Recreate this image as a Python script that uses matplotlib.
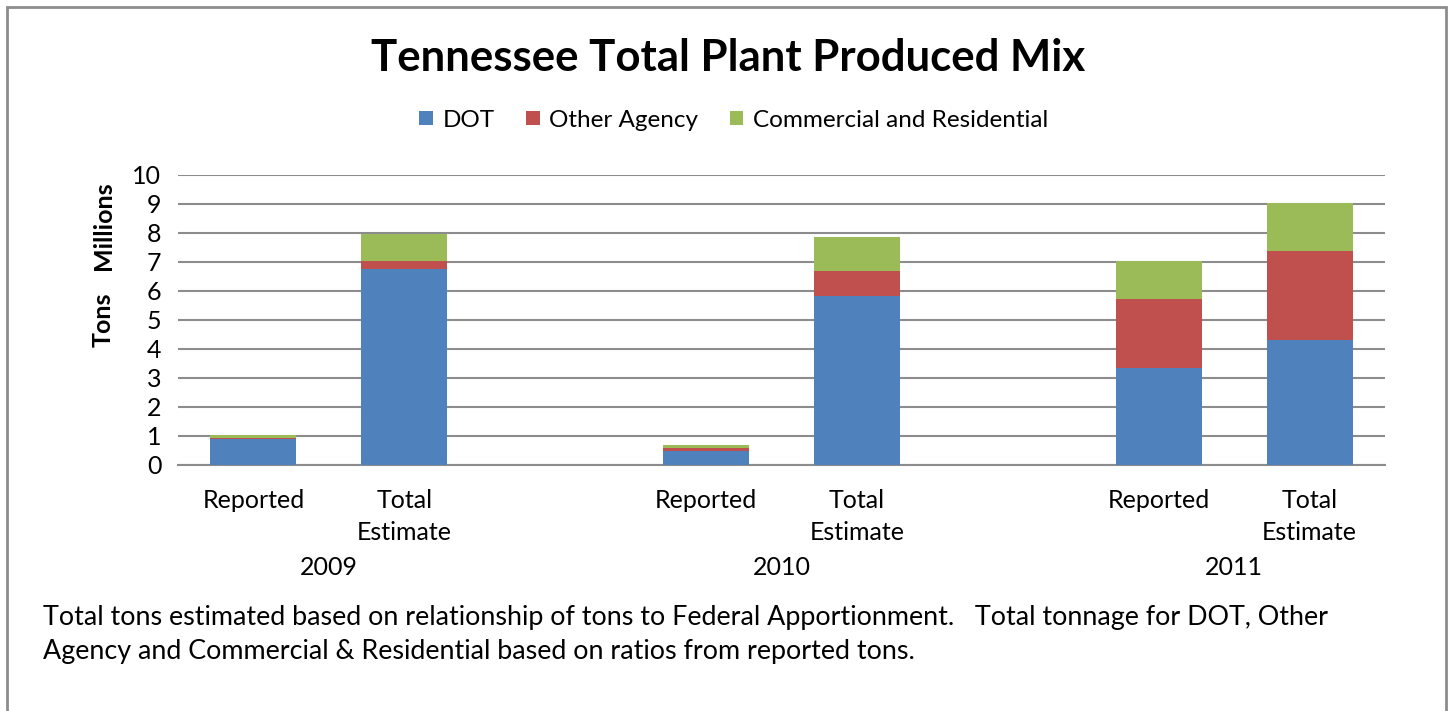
import matplotlib.pyplot as plt
from matplotlib.patches import Rectangle

plt.rcParams['font.family'] = ['Lato', 'DejaVu Sans']

# data (millions of tons)
years = ['2009', '2010', '2011']
bar_labels = ['Reported', 'Total\nEstimate']
dot = [0.90, 6.76, 0.48, 5.83, 3.36, 4.30]
other = [0.03, 0.27, 0.11, 0.86, 2.36, 3.06]
commercial = [0.10, 0.93, 0.10, 1.17, 1.31, 1.67]
series_names = ['DOT', 'Other Agency', 'Commercial and Residential']
colors = ['#4F81BD', '#C0504D', '#9BBB59']

# positions: two bars per year with an empty slot between years
pos = [0, 1, 3, 4, 6, 7]

fig = plt.figure(figsize=(14.53, 7.11), dpi=100)
ax = fig.add_axes([0.1225, 0.346, 0.8307, 0.408])

bottom2 = [d + o for d, o in zip(dot, other)]
ax.bar(pos, dot, width=0.57, color=colors[0], label=series_names[0], zorder=3)
ax.bar(pos, other, width=0.57, bottom=dot, color=colors[1], label=series_names[1], zorder=3)
ax.bar(pos, commercial, width=0.57, bottom=bottom2, color=colors[2], label=series_names[2], zorder=3)

ax.set_xlim(-0.5, 7.5)
ax.set_ylim(0, 10)
ax.set_yticks(range(0, 11))
ax.tick_params(axis='y', labelsize=18, length=0, pad=12)
ax.set_xticks([])
ax.yaxis.grid(True, color='#8c8c8c', linewidth=1.5, zorder=0)
for s in ['top', 'right', 'left']:
    ax.spines[s].set_visible(False)
ax.spines['bottom'].set_color('#8c8c8c')
ax.spines['bottom'].set_linewidth(1.5)

# category labels (one line at a time)
for i, p in enumerate(pos):
    lines = bar_labels[i % 2].split('\n')
    for k, line in enumerate(lines):
        ax.text(p, -1.207 - 1.13 * k, line, ha='center', va='center', fontsize=18)
for j, y in enumerate(years):
    ax.text((pos[2 * j] + pos[2 * j + 1]) / 2, -3.55, y, ha='center', va='center', fontsize=18)

# axis titles
fig.text(0.071, 0.55, 'Tons', rotation=90, ha='center', va='center', fontsize=18, fontweight='bold')
fig.text(0.071, 0.682, 'Millions', rotation=90, ha='center', va='center', fontsize=18, fontweight='bold')

fig.text(0.501, 0.918, 'Tennessee Total Plant Produced Mix', ha='center', va='center',
         fontsize=31.5, fontweight='bold')
fig.legend(loc='center', bbox_to_anchor=(0.505, 0.831), ncol=3, frameon=False, fontsize=17.5,
           handlelength=0.55, handleheight=0.55, columnspacing=1.3, handletextpad=0.4)

fig.text(0.0296, 0.1076, 'Total tons estimated based on relationship of tons to Federal Apportionment.   '
         'Total tonnage for DOT, Other\nAgency and Commercial & Residential based on ratios from reported tons.',
         ha='left', va='center', fontsize=19.4, linespacing=1.47)

# outer frame
fig.patches.append(Rectangle((0.005, -0.02), 0.9905, 1.01, transform=fig.transFigure,
                             fill=False, edgecolor='#8c8c8c', linewidth=2))

fig.savefig('out.png', dpi=100)
